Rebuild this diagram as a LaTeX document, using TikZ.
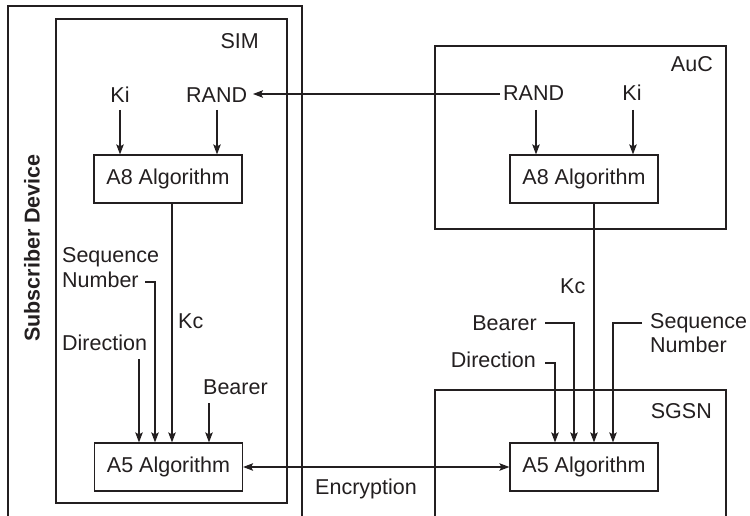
\documentclass[tikz,border=0pt]{standalone}
\usepackage{fontspec}
\setmainfont{Liberation Sans}
\usetikzlibrary{arrows.meta}
\definecolor{ink}{RGB}{35,31,32}
\begin{document}
\begin{tikzpicture}[x=1pt,y=-1pt,
  every node/.style={font=\fontsize{21.5}{24}\selectfont, text=ink},
  lbl/.style={inner sep=0pt},
  algbox/.style={draw=ink, line width=1.2pt, minimum width=148pt, minimum height=48pt, inner sep=0pt},
  frame/.style={draw=ink, line width=1.2pt},
  arr/.style={draw=ink, line width=1.2pt, -{Stealth[length=10pt,width=7.5pt,inset=2pt]}},
  dblarr/.style={draw=ink, line width=1.2pt, {Stealth[length=10pt,width=7.5pt,inset=2pt]}-{Stealth[length=10pt,width=7.5pt,inset=2pt]}},
  wire/.style={draw=ink, line width=1.2pt}]
\useasboundingbox (0,0) rectangle (750,516);
\fill[white] (0,0) rectangle (750,516);

% frames
\draw[frame] (8,516) -- (8,6) -- (302,6) -- (302,516);
\draw[frame] (56,19) rectangle (287,503);
\draw[frame] (435,46) rectangle (726,229);
\draw[frame] (435,516) -- (435,390) -- (726,390) -- (726,516);

% frame labels
\node[lbl, anchor=base east] (sim) at (259,49) {SIM};
\node[lbl, anchor=base east] (auc) at (713,72) {AuC};
\node[lbl, anchor=base east] (sgsn) at (712,418) {SGSN};
\node[lbl, rotate=90, font=\fontsize{21.5}{24}\selectfont\bfseries] (sd) at (32,248) {Subscriber Device};

% algorithm boxes
\node[algbox] (a8l) at (168,179) {A8 Algorithm};
\node[algbox] (a8r) at (584,179) {A8 Algorithm};
\node[algbox] (a5l) at (168.5,467) {A5 Algorithm};
\node[algbox] (a5r) at (584,467) {A5 Algorithm};

% SIM inputs
\node[lbl, anchor=base] (kil) at (120,103) {Ki};
\node[lbl, anchor=base west] (randl) at (186,103) {RAND};
\node[lbl, anchor=base] (kir) at (632,101) {Ki};
\node[lbl, anchor=base west] (randr) at (503,101) {RAND};

\coordinate (kilA) at (120,110);
\coordinate (randlA) at (217,110);
\coordinate (kirA) at (633,110);
\coordinate (randrA) at (536,110);
\draw[arr] (kilA) -- (kilA |- a8l.north);
\draw[arr] (randlA) -- (randlA |- a8l.north);
\draw[arr] (kirA) -- (kirA |- a8r.north);
\draw[arr] (randrA) -- (randrA |- a8r.north);

\coordinate (randLineR) at (500,94);
\coordinate (randLineL) at (253,94);
\draw[arr] (randLineR) -- (randLineL);

% left A5 inputs
\node[lbl, anchor=base west] (seql) at (62,262) {Sequence};
\node[lbl, anchor=base west] (numl) at (62,287) {Number};
\node[lbl, anchor=base west] (kcl) at (178,328) {Kc};
\node[lbl, anchor=base west] (dirl) at (62,350) {Direction};
\node[lbl, anchor=base west] (bearl) at (203,394) {Bearer};

\coordinate (kcOutL) at (172,0);
\draw[arr] (kcOutL |- a8l.south) -- (kcOutL |- a5l.north);
\coordinate (seqLA) at (145,282);
\coordinate (seqLB) at (155,282);
\draw[arr] (seqLA) -- (seqLB) -- (seqLB |- a5l.north);
\coordinate (dirLA) at (139,359);
\draw[arr] (dirLA) -- (dirLA |- a5l.north);
\coordinate (bearLA) at (209,403);
\draw[arr] (bearLA) -- (bearLA |- a5l.north);

% right A5 inputs
\node[lbl, anchor=base west] (kcr) at (560,293) {Kc};
\node[lbl, anchor=base east] (bearr) at (537,330) {Bearer};
\node[lbl, anchor=base east] (dirr) at (536,367) {Direction};
\node[lbl, anchor=base west] (seqr) at (650,328) {Sequence};
\node[lbl, anchor=base west] (numr) at (650,352) {Number};

\coordinate (kcOutR) at (594,0);
\draw[arr] (kcOutR |- a8r.south) -- (kcOutR |- a5r.north);
\coordinate (bearRA) at (545,323);
\coordinate (bearRB) at (574,323);
\draw[arr] (bearRA) -- (bearRB) -- (bearRB |- a5r.north);
\coordinate (dirRA) at (545,363);
\coordinate (dirRB) at (555,363);
\draw[arr] (dirRA) -- (dirRB) -- (dirRB |- a5r.north);
\coordinate (seqRA) at (642,323);
\coordinate (seqRB) at (613,323);
\draw[arr] (seqRA) -- (seqRB) -- (seqRB |- a5r.north);

% encryption link
\draw[dblarr] (a5l.east) -- (a5r.west);
\node[lbl, anchor=base] (enc) at (366,494) {Encryption};
\end{tikzpicture}
\end{document}
